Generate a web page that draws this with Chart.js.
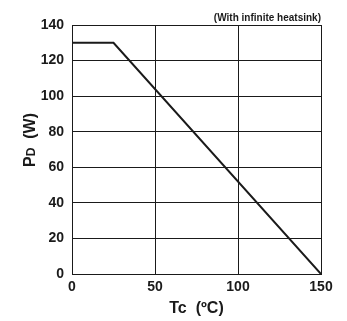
<!DOCTYPE html>
<html>
<head>
<meta charset="utf-8">
<script src="https://cdn.jsdelivr.net/npm/chart.js@4.4.0/dist/chart.umd.min.js"></script>
<style>
  html, body { margin: 0; padding: 0; background: #fff; }
  #wrap { width: 347px; height: 321px; position: relative; }
</style>
</head>
<body>
<div id="wrap"><canvas id="c" width="347" height="321"></canvas></div>
<script>
// Data
const tcValues = [0, 25, 150];          // case temperature (°C)
const pdValues = [130, 130, 0];         // power dissipation (W)
const xTickStep = 50;
const yTickStep = 20;
const xRange = [0, 150];
const yRange = [0, 140];
const noteText = '(With infinite heatsink)';
const xTitleText = 'Tc  (ºC)';
const yTitleMain = 'P';
const yTitleSub = 'D';
const yTitleRest = '  (W)';

const FONT = '"Liberation Sans", Arial, Helvetica, sans-serif';
const INK = '#1a1a1a';

const points = tcValues.map((x, i) => ({ x: x, y: pdValues[i] }));

const textPlugin = {
  id: 'texts',
  afterDraw(chart) {
    const ctx = chart.ctx;
    const ca = chart.chartArea;
    ctx.save();
    ctx.fillStyle = INK;
    // note top right
    ctx.font = 'bold 10px ' + FONT;
    ctx.textAlign = 'right';
    ctx.textBaseline = 'alphabetic';
    ctx.fillText(noteText, ca.right, 21);
    // x title
    ctx.font = 'bold 16px ' + FONT;
    ctx.textAlign = 'center';
    ctx.fillText(xTitleText, (ca.left + ca.right) / 2, 313);
    // y title rotated with subscript
    ctx.translate(35, 140);
    ctx.rotate(-Math.PI / 2);
    ctx.font = 'bold 16px ' + FONT;
    const wMain = ctx.measureText(yTitleMain).width;
    const wRest = ctx.measureText(yTitleRest).width;
    ctx.font = 'bold 12px ' + FONT;
    const wSub = ctx.measureText(yTitleSub).width;
    const total = wMain + wSub + wRest;
    let x = -total / 2;
    ctx.textAlign = 'left';
    ctx.font = 'bold 16px ' + FONT;
    ctx.fillText(yTitleMain, x, 0);
    x += wMain;
    ctx.font = 'bold 12px ' + FONT;
    ctx.fillText(yTitleSub, x, 0);
    x += wSub;
    ctx.font = 'bold 16px ' + FONT;
    ctx.fillText(yTitleRest, x, 0);
    ctx.restore();
  }
};

new Chart(document.getElementById('c'), {
  type: 'line',
  data: {
    datasets: [{
      data: points,
      borderColor: INK,
      borderWidth: 2,
      pointRadius: 0,
      tension: 0,
      fill: false
    }]
  },
  options: {
    responsive: false,
    animation: false,
    devicePixelRatio: 1,
    layout: { padding: { top: 25, right: 26, left: 0, bottom: 0 } },
    plugins: { legend: { display: false }, tooltip: { enabled: false } },
    scales: {
      x: {
        type: 'linear',
        min: xRange[0], max: xRange[1],
        ticks: { stepSize: xTickStep, color: INK, font: { family: FONT, size: 14, weight: 'bold' }, padding: 5, maxRotation: 0 },
        grid: { color: INK, lineWidth: 1, drawTicks: false },
        border: { color: INK, width: 1 },
        afterFit(s) { s.height = 47; }
      },
      y: {
        type: 'linear',
        min: yRange[0], max: yRange[1],
        ticks: { stepSize: yTickStep, color: INK, font: { family: FONT, size: 14, weight: 'bold' }, padding: 8 },
        grid: { color: INK, lineWidth: 1, drawTicks: false },
        border: { color: INK, width: 1 },
        afterFit(s) { s.width = 72; }
      }
    }
  },
  plugins: [textPlugin]
});
</script>
</body>
</html>
